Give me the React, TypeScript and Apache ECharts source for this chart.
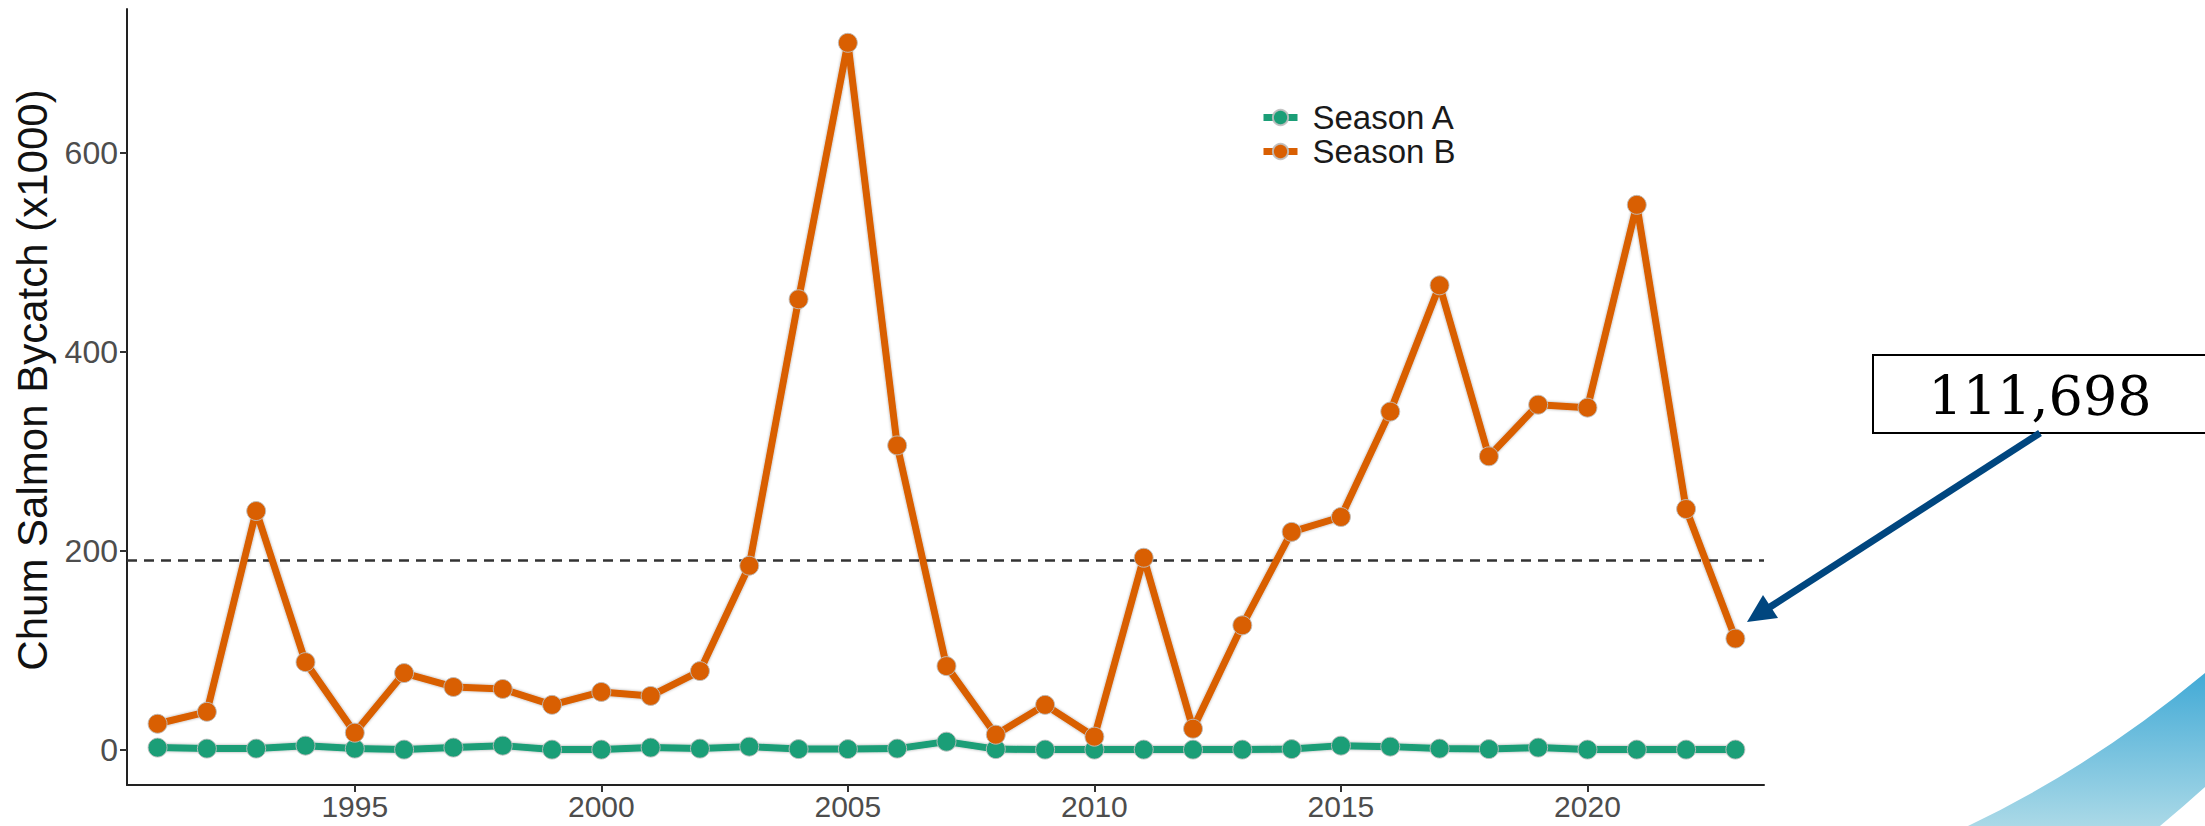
import React, { useEffect, useRef } from "react";
import * as echarts from "echarts";

const years = [1991,1992,1993,1994,1995,1996,1997,1998,1999,2000,2001,2002,2003,2004,2005,2006,2007,2008,2009,2010,2011,2012,2013,2014,2015,2016,2017,2018,2019,2020,2021,2022,2023];
const seasonA = [2,1,1,4,1,0,2,4,0,0,2,1,3,0.5,0.5,1,8,0.5,0,0,0,0,0,0.5,4,3,1,0.5,2,0,0,0,0];
const seasonB = [26,38,240,88,17,77,63,61,45,58,54,79,185,453,711,306,84,15,45,13,193,21,125,219,234,340,467,295,347,344,548,242,111.698];
const seriesNames = ["Season A", "Season B"];
const seriesColors = ["#1B9E77", "#D95F02"];
const thresholdValue = 190;
const xTicks = [1995, 2000, 2005, 2010, 2015, 2020];
const yTicks = [0, 200, 400, 600];
const yAxisTitle = "Chum Salmon Bycatch (x1000)";
const annotationText = "111,698";

const swooshPath = "M 2205 673 Q 2092 767 1968 826 L 2160 826 Q 2184 806 2205 787 Z";

export default function App() {
  const ref = useRef<HTMLDivElement>(null);
  useEffect(() => {
    document.body.style.margin = "0";
    if (!ref.current) return;
    try {
      echarts.graphic.registerShape("swoosh", echarts.graphic.extendPath(swooshPath, {}));
    } catch (e) {}
    const chart = echarts.init(ref.current, undefined, { renderer: "svg" });
    const mk = (vals: number[]) => years.map((y, i) => [y, vals[i]]);
    const lineSeries = (idx: number, vals: number[]) => ({
      name: seriesNames[idx],
      type: "line",
      data: mk(vals),
      symbol: "circle",
      symbolSize: 19,
      color: seriesColors[idx],
      lineStyle: { width: 7, color: seriesColors[idx], shadowColor: "rgba(0,0,0,0.35)", shadowBlur: 3 },
      itemStyle: { color: seriesColors[idx], borderColor: "rgba(190,190,190,0.9)", borderWidth: 1 },
      emphasis: { disabled: true },
      z: 3 + idx,
    });
    const sA: any = lineSeries(0, seasonA);
    const sB: any = lineSeries(1, seasonB);
    sB.markLine = {
      silent: true,
      symbol: "none",
      label: { show: false },
      lineStyle: { type: [10, 7], color: "#333333", width: 2.5 },
      data: [{ yAxis: thresholdValue }],
      z: 2,
    };
    chart.setOption({
      animation: false,
      backgroundColor: "#ffffff",
      grid: { left: 127, right: 441, top: 9, bottom: 41, containLabel: false },
      legend: {
        orient: "vertical",
        left: 1255,
        top: 96,
        itemWidth: 34,
        itemHeight: 19,
        itemGap: 1,
        data: seriesNames,
        lineStyle: { width: 7, type: "solid" },
        textStyle: { fontFamily: "Liberation Sans", fontSize: 33, color: "#1a1a1a", padding: [0, 0, 0, 10] },
      },
      xAxis: {
        type: "value",
        min: 1990.38,
        max: 2023.58,
        splitLine: { show: false },
        axisLine: { onZero: false, lineStyle: { color: "#222", width: 2 } },
        axisTick: { show: true, length: 7, lineStyle: { color: "#333", width: 2 }, customValues: xTicks },
        axisLabel: {
          customValues: xTicks,
          formatter: (v: number) => String(v),
          fontFamily: "Liberation Sans",
          fontSize: 30,
          color: "#4D4D4D",
          margin: 6,
        },
      },
      yAxis: {
        type: "value",
        min: -35.6,
        max: 745,
        splitLine: { show: false },
        axisLine: { show: true, onZero: false, lineStyle: { color: "#222", width: 2 } },
        axisTick: { show: true, length: 7, lineStyle: { color: "#333", width: 2 }, customValues: yTicks },
        axisLabel: {
          customValues: yTicks,
          formatter: (v: number) => String(v),
          fontFamily: "Liberation Sans",
          fontSize: 32,
          color: "#4D4D4D",
          margin: 9,
        },
        name: yAxisTitle,
        nameLocation: "middle",
        nameGap: 65,
        nameTextStyle: { fontFamily: "Liberation Sans", fontSize: 42, color: "#111", padding: [0, 0, 0, 34] },
      },
      series: [sA, sB],
      graphic: [
        {
          type: "swoosh",
          x: 0,
          y: 0,
          silent: true,
          style: {
            fill: new echarts.graphic.LinearGradient(0, 0, 0, 1, [
              { offset: 0, color: "#42AAD6" },
              { offset: 1, color: "#AAD9E7" },
            ]),
          },
        },
        {
          type: "rect",
          shape: { x: 1873, y: 355, width: 340, height: 78 },
          style: { fill: "#ffffff", stroke: "#000000", lineWidth: 2 },
          z: 10,
        },
        {
          type: "text",
          x: 2040,
          y: 396,
          z: 11,
          style: {
            text: annotationText,
            fontFamily: "DejaVu Serif",
            fontSize: 54,
            fill: "#000",
            align: "center",
            verticalAlign: "middle",
          },
        },
        {
          type: "line",
          shape: { x1: 2040, y1: 433, x2: 1770, y2: 607 },
          style: { stroke: "#00467F", lineWidth: 7 },
          z: 10,
        },
        {
          type: "polygon",
          shape: { points: [[1747, 622], [1778, 618], [1763, 595]] },
          style: { fill: "#00467F" },
          z: 10,
        },
      ],
    });
    return () => chart.dispose();
  }, []);
  return <div ref={ref} style={{ width: 2205, height: 826 }} />;
}
